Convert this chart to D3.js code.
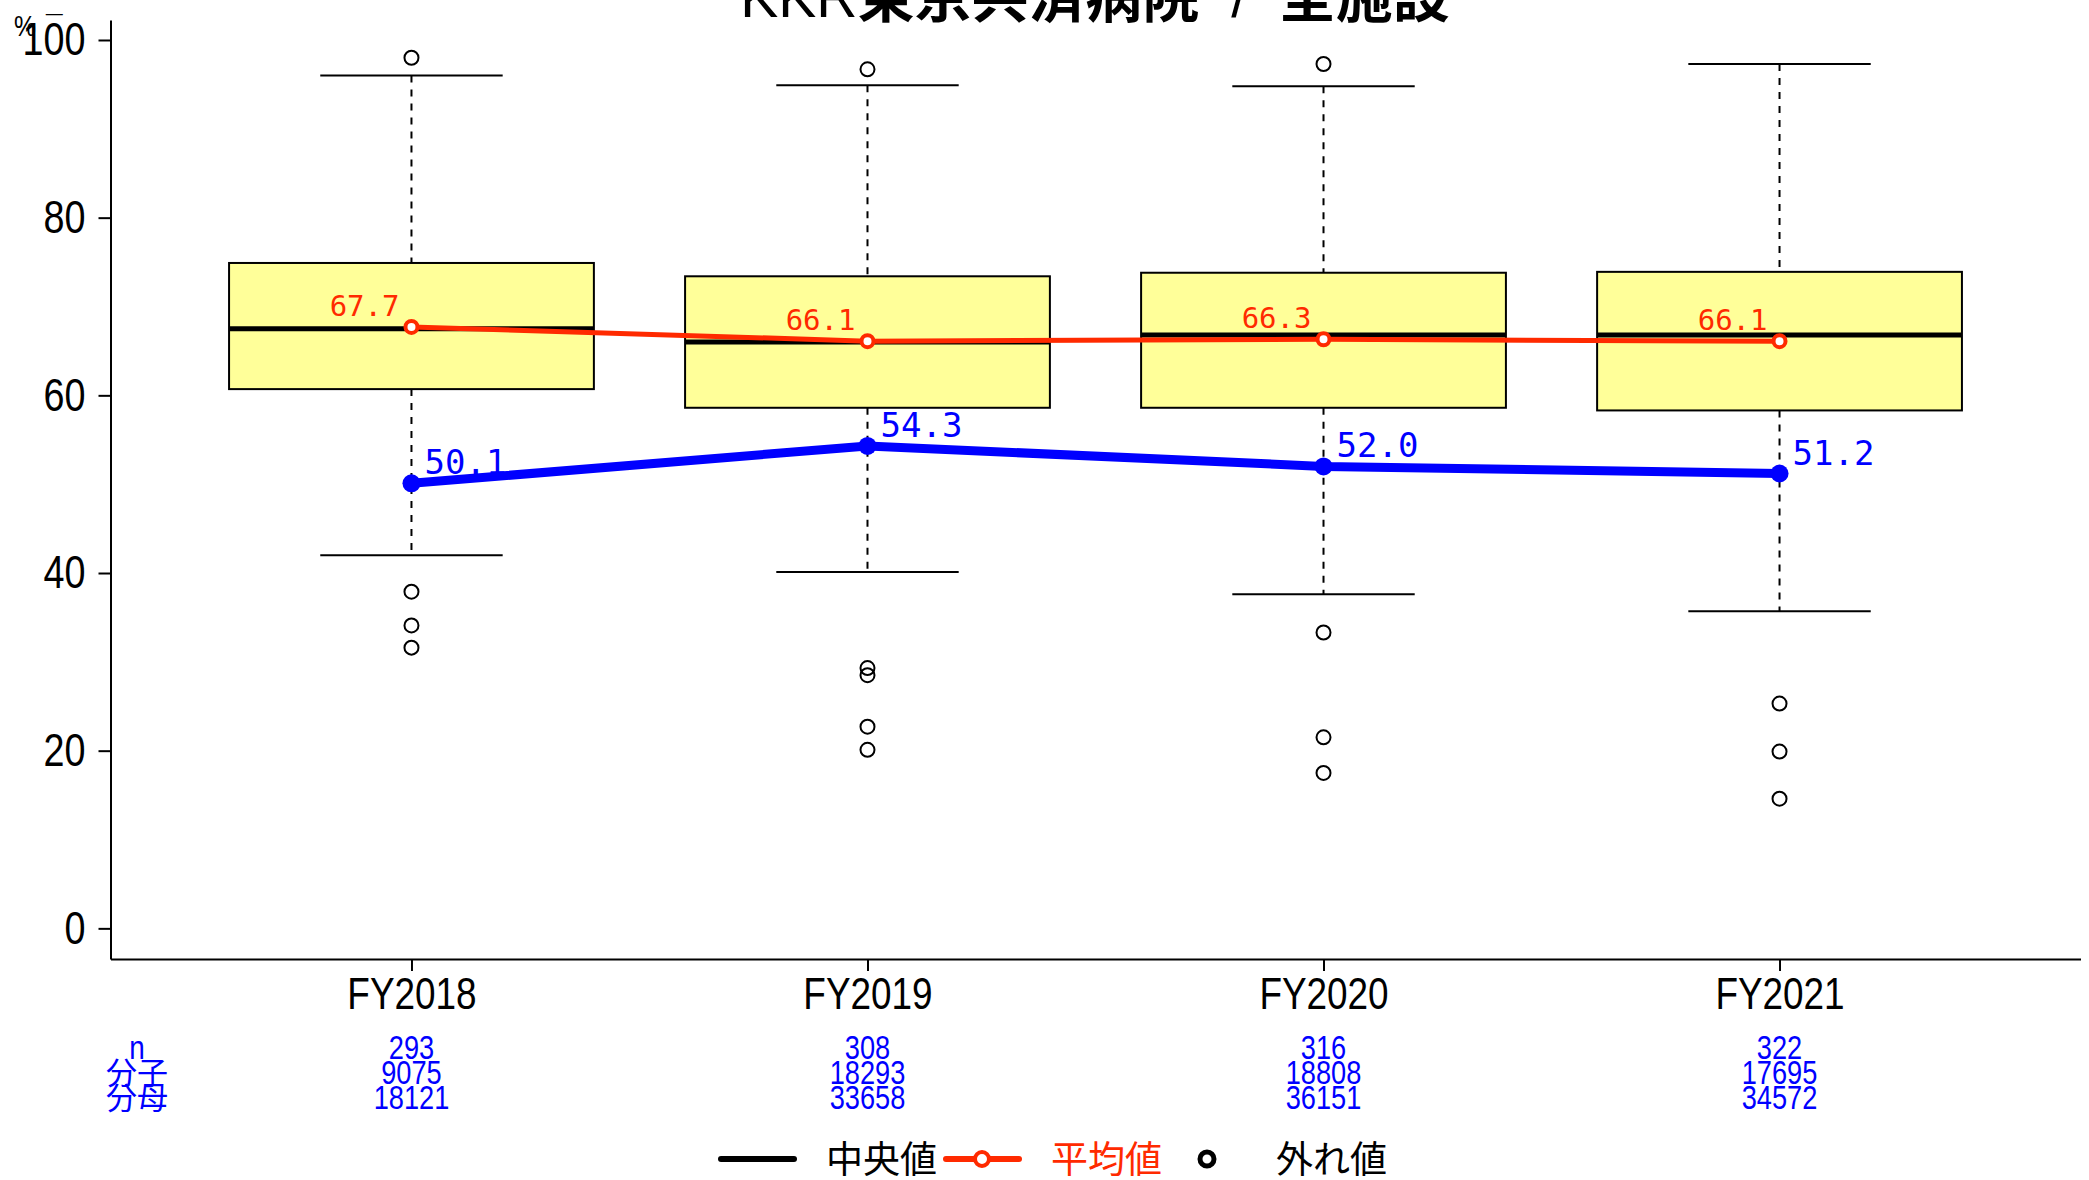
<!DOCTYPE html>
<html><head><meta charset="utf-8">
<script src="https://cdn.jsdelivr.net/npm/d3@7"></script>
<style>body{margin:0;background:#fff}svg{display:block}</style>
</head><body>
<svg id="c" width="2089" height="1180"></svg>
<script>
const categories = ["FY2018","FY2019","FY2020","FY2021"];
const whiskerLow  = [42.0, 40.1, 37.6, 35.7];
const boxLow      = [60.7, 58.6, 58.6, 58.3];
const medians     = [67.5, 66.0, 66.8, 66.8];
const boxHigh     = [74.9, 73.4, 73.8, 73.9];
const whiskerHigh = [96.0, 94.9, 94.8, 97.3];
const outliers = [
  [98.0, 37.9, 34.1, 31.6],
  [96.7, 29.3, 28.5, 22.7, 20.1],
  [97.3, 33.3, 21.5, 17.5],
  [25.3, 19.9, 14.6]
];
const means = [67.7, 66.1, 66.3, 66.1];
const hospital = [50.1, 54.3, 52.0, 51.2];
const nRow = [293, 308, 316, 322];
const numerRow = [9075, 18293, 18808, 17695];
const denomRow = [18121, 33658, 36151, 34572];
const rowLabels = ["n", "分子", "分母"];
const yTicks = [0, 20, 40, 60, 80, 100];
const titleParts = ["KKR", "東京共済病院", "  /  ", "全施設"];
const legendLabels = ["中央値", "平均値", "外れ値"];

const SANS = "'Liberation Sans',Arial,sans-serif";
const CJK = "'Noto Sans CJK JP','Liberation Sans',sans-serif";
const MONO = "'DejaVu Sans Mono',monospace";
const RED = "#ff2a00", BLUE = "#0000ff";

// make Liberation Sans text narrow (like Arial Narrow) by compressing glyphs
function narrow(sel, f) {
  sel.each(function(){
    const len = this.getComputedTextLength();
    d3.select(this).attr("textLength", len*(f||0.82)).attr("lengthAdjust","spacingAndGlyphs");
  });
}

const svg = d3.select("#c");
const x = d3.scaleLinear().domain([0.34, 4.66]).range([110.5, 2080.5]);
const y = d3.scaleLinear().domain([-3.45, 102.25]).range([959, 20]);
const idx = categories.map((d,i)=>i);
const cx = i => x(i+1);

// axes
const yAxis = d3.axisLeft(y).tickValues(yTicks).tickSize(12).tickSizeOuter(0).tickPadding(13);
const gy = svg.append("g").attr("transform","translate(110.5,0)").call(yAxis);
gy.selectAll("text").attr("font-family", SANS).attr("font-size", 46).attr("fill","#000");
narrow(gy.selectAll("text"));
gy.selectAll("line,path").attr("stroke","#000").attr("stroke-width",2);

const xAxis = d3.axisBottom(x).tickValues([1,2,3,4]).tickFormat((d)=>categories[d-1]).tickSize(12).tickSizeOuter(0).tickPadding(6);
const gx = svg.append("g").attr("transform","translate(0,959)").call(xAxis);
gx.selectAll("text").attr("font-family", SANS).attr("font-size", 45).attr("fill","#000");
narrow(gx.selectAll("text"));
gx.selectAll("line,path").attr("stroke","#000").attr("stroke-width",2);

// boxes
const g = svg.append("g");
idx.forEach(i=>{
  const c = cx(i);
  const hw = (x(1.4)-x(1)), cw = (x(1.2)-x(1));
  g.append("line").attr("x1",c).attr("x2",c).attr("y1",y(whiskerHigh[i])).attr("y2",y(boxHigh[i]))
    .attr("stroke","#000").attr("stroke-width",2).attr("stroke-dasharray","7,7");
  g.append("line").attr("x1",c).attr("x2",c).attr("y1",y(boxLow[i])).attr("y2",y(whiskerLow[i]))
    .attr("stroke","#000").attr("stroke-width",2).attr("stroke-dasharray","7,7");
  [whiskerHigh[i], whiskerLow[i]].forEach(v=>{
    g.append("line").attr("x1",c-cw).attr("x2",c+cw).attr("y1",y(v)).attr("y2",y(v))
      .attr("stroke","#000").attr("stroke-width",2);
  });
  g.append("rect").attr("x",c-hw).attr("width",2*hw).attr("y",y(boxHigh[i])).attr("height",y(boxLow[i])-y(boxHigh[i]))
    .attr("fill","#ffff99").attr("stroke","#000").attr("stroke-width",2);
  g.append("line").attr("x1",c-hw).attr("x2",c+hw).attr("y1",y(medians[i])).attr("y2",y(medians[i]))
    .attr("stroke","#000").attr("stroke-width",5);
  outliers[i].forEach(v=>{
    g.append("circle").attr("cx",c).attr("cy",y(v)).attr("r",7).attr("fill","none").attr("stroke","#000").attr("stroke-width",2);
  });
});

// mean line
const line = d3.line().x((d,i)=>cx(i)).y(d=>y(d));
svg.append("path").datum(means).attr("d",line).attr("fill","none").attr("stroke",RED).attr("stroke-width",5);
svg.selectAll(".mp").data(means).join("circle").attr("cx",(d,i)=>cx(i)).attr("cy",d=>y(d)).attr("r",6)
  .attr("fill","#fff").attr("stroke",RED).attr("stroke-width",4);
svg.selectAll(".mt").data(means).join("text").attr("x",(d,i)=>cx(i)-12).attr("y",d=>y(d)-11)
  .attr("text-anchor","end").attr("font-family",MONO).attr("font-size",29).attr("fill",RED).text(d=>d.toFixed(1));

// hospital line
svg.append("path").datum(hospital).attr("d",line).attr("fill","none").attr("stroke",BLUE).attr("stroke-width",9);
svg.selectAll(".hp").data(hospital).join("circle").attr("cx",(d,i)=>cx(i)).attr("cy",d=>y(d)).attr("r",9).attr("fill",BLUE);
svg.selectAll(".ht").data(hospital).join("text").attr("x",(d,i)=>cx(i)+13).attr("y",d=>y(d)-9)
  .attr("font-family",MONO).attr("font-size",34).attr("fill",BLUE).text(d=>d.toFixed(1));

// table
const rows = [nRow, numerRow, denomRow];
const rowY = [1059, 1084, 1109];
rows.forEach((r,k)=>{
  const lab = svg.append("text").attr("x",137).attr("y",rowY[k]).attr("text-anchor","middle")
    .attr("font-family", k===0?SANS:CJK).attr("font-size",k===0?34:31).attr("fill",BLUE).text(rowLabels[k]);
  if (k===0) narrow(lab);
  r.forEach((v,i)=>{
    const tt = svg.append("text").attr("x",cx(i)).attr("y",rowY[k]).attr("text-anchor","middle")
      .attr("font-family",SANS).attr("font-size",34).attr("fill",BLUE).text(v);
    narrow(tt, 0.8);
  });
});

// y label
svg.append("text").attr("x",14).attr("y",36).attr("font-family",SANS).attr("font-size",30).attr("fill","#000").text("%").call(narrow);
svg.append("text").attr("x",46).attr("y",36).attr("font-family",SANS).attr("font-size",30).attr("fill","#000").text("¯");

// title
const t = svg.append("text").attr("x",1095).attr("y",17).attr("text-anchor","middle").attr("font-size",57).attr("fill","#000");
titleParts.forEach((p,k)=>{
  t.append("tspan").attr("font-family", k===0||k===2?SANS:CJK).attr("font-weight", k===0||k===2?"normal":"bold")
   .attr("xml:space","preserve").text(p);
});

// legend
const ly = 1159;
const lg = svg.append("g");
lg.append("line").attr("x1",721).attr("x2",794).attr("y1",ly).attr("y2",ly).attr("stroke","#000").attr("stroke-width",6).attr("stroke-linecap","round");
lg.append("text").attr("x",826).attr("y",ly+14).attr("font-family",CJK).attr("font-size",37).attr("fill","#000").text(legendLabels[0]);
lg.append("line").attr("x1",946).attr("x2",1019).attr("y1",ly).attr("y2",ly).attr("stroke",RED).attr("stroke-width",6).attr("stroke-linecap","round");
lg.append("circle").attr("cx",982).attr("cy",ly).attr("r",7).attr("fill","#fff").attr("stroke",RED).attr("stroke-width",4);
lg.append("text").attr("x",1051).attr("y",ly+14).attr("font-family",CJK).attr("font-size",37).attr("fill",RED).text(legendLabels[1]);
lg.append("circle").attr("cx",1207).attr("cy",ly).attr("r",7).attr("fill","none").attr("stroke","#000").attr("stroke-width",5);
lg.append("text").attr("x",1276).attr("y",ly+14).attr("font-family",CJK).attr("font-size",37).attr("fill","#000").text(legendLabels[2]);
</script>
</body></html>
